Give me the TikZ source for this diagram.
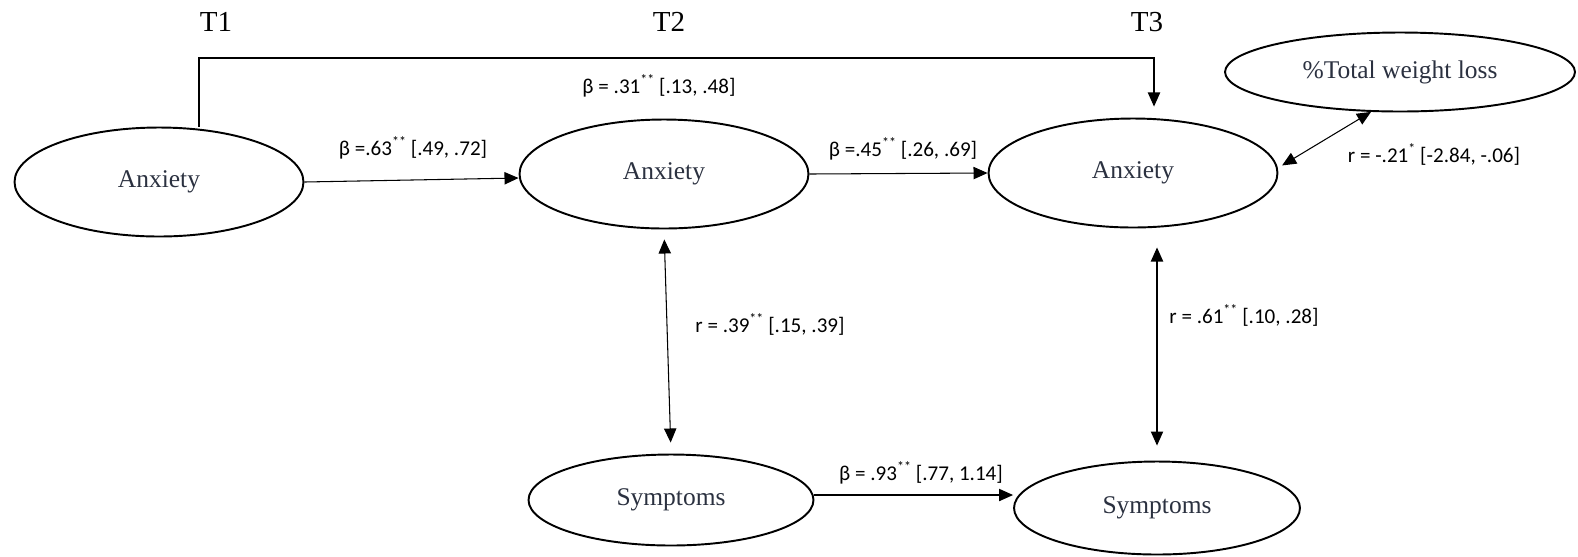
\documentclass[tikz,border=0pt]{standalone}
\usepackage{fontspec}
\setmainfont{Liberation Serif}
\newfontfamily\lblfont{Carlito}
\usepackage{xcolor}
\usetikzlibrary{shapes.geometric, arrows.meta, calc}
\definecolor{nodetext}{HTML}{2B3140}
\newcommand{\sigstar}[1]{\raisebox{0.9ex}{\fontsize{8}{8}\selectfont #1}}

\begin{document}
\begin{tikzpicture}[
    x=0.02cm, y=-0.02cm,
    every node/.style={align=center},
    latent/.style={ellipse, draw, line width=1.1pt, inner sep=0pt, minimum width=5.78cm, minimum height=2.18cm, font=\fontsize{14.5}{16}\selectfont, text=nodetext},
    wave/.style={font=\fontsize{16.5}{18}\selectfont},
    coef/.style={font=\lblfont\fontsize{12}{14}\selectfont},
    arrow/.style={-{Triangle[length=8pt, width=7pt]}, line width=0.6pt},
    dblarrow/.style={{Triangle[length=8pt, width=7pt]}-{Triangle[length=8pt, width=7pt]}, line width=0.6pt}
]
\useasboundingbox (0,0) rectangle (1578,556);

% Time points
\node (t1) [wave] at (216,22) {T1};
\node (t2) [wave] at (669,22) {T2};
\node (t3) [wave] at (1147,22) {T3};

% Anxiety at T1, T2, T3
\node (anx1) [latent] at (159,182) {Anxiety};
\node (anx2) [latent] at (664,174) {Anxiety};
\node (anx3) [latent] at (1133,173) {Anxiety};

% Weight loss
\node (twl) [latent, minimum width=7cm, minimum height=1.58cm] at (1400,72) {\%Total weight loss};

% Symptoms at T2, T3
\node (sym2) [latent, minimum width=5.7cm, minimum height=1.82cm] at (671,500) {Symptoms};
\node (sym3) [latent, minimum width=5.72cm, minimum height=1.86cm] at (1157,508) {Symptoms};

% Coefficients
\node (b13) [coef] at (659,86) {β = .31\sigstar{**} [.13, .48]};
\node (b12) [coef] at (413,148) {β =.63\sigstar{**} [.49, .72]};
\node (b23) [coef] at (903,149) {β =.45\sigstar{**} [.26, .69]};
\node (rw) [coef] at (1434,154) {r = -.21\sigstar{*} [-2.84, -.06]};
\node (r2) [coef] at (770,324) {r = .39\sigstar{**} [.15, .39]};
\node (r3) [coef] at (1244,315) {r = .61\sigstar{**} [.10, .28]};
\node (bs) [coef] at (921,473) {β = .93\sigstar{**} [.77, 1.14]};

% Paths
\coordinate (c1) at (199,58);
\coordinate (c2) at (1154,58);
\draw [arrow] (anx1.north -| c1) -- (c1) -- (c2) -- ($(c2 |- anx3.north)+(0,-11)$);
\draw [arrow] (anx1.east) -- ($(anx2.west)+(0,4)$);
\draw [arrow] (anx2.east) -- (anx3.west);
\draw [arrow] ($(sym2.east)+(0,-5)$) -- ($(sym2.east -| sym3.west)+(0,-5)$);

% Correlations
\draw [dblarrow, shorten <=0.2cm, shorten >=0.22cm] (anx2.south) -- (sym2.north);
\draw [dblarrow, shorten <=0.38cm, shorten >=0.3cm] (anx3.south -| sym3.north) -- (sym3.north);
\draw [dblarrow] (twl.-126) -- ($(anx3.3)+(5,0)$);

\end{tikzpicture}
\end{document}
